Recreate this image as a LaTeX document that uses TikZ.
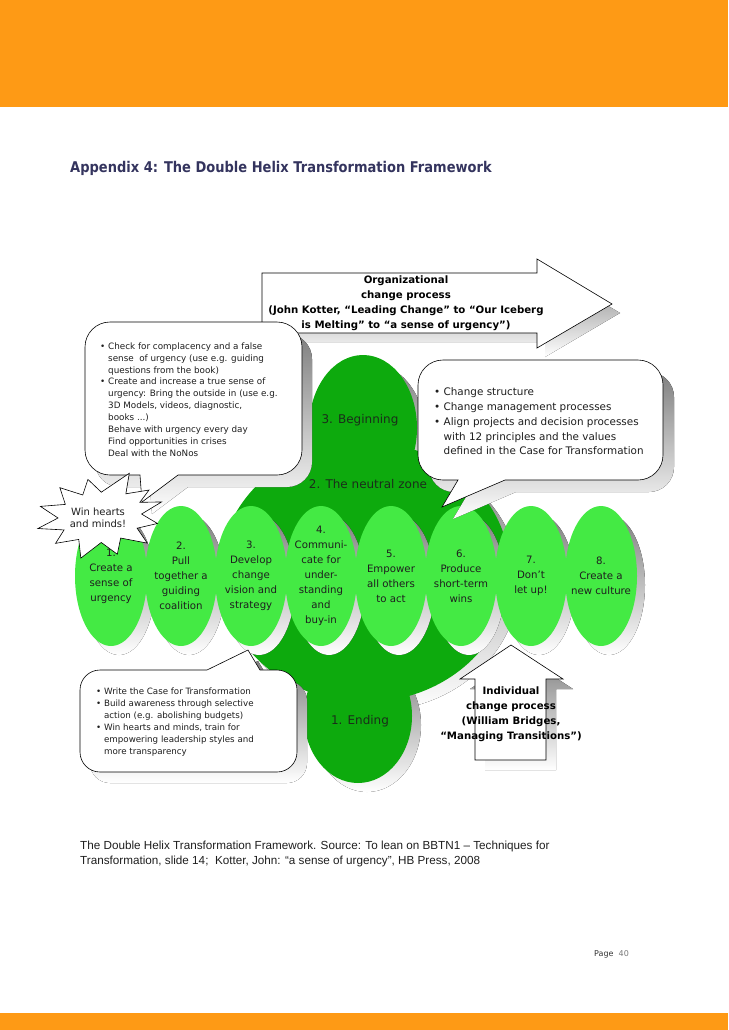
\documentclass[tikz,border=0pt]{standalone}
\usepackage{fontspec}
\setmainfont{DejaVu Sans}
\newfontfamily\capfont{Liberation Sans}
\definecolor{bandorange}{HTML}{FE9A15}
\definecolor{titleblue}{HTML}{34345E}
\definecolor{helixdark}{HTML}{0DAA0D}
\definecolor{helixlight}{HTML}{44EA44}
\definecolor{shade}{HTML}{8A8A8A}
\definecolor{inktext}{HTML}{1E1E1E}
\definecolor{greenink}{HTML}{1A2E1A}
\definecolor{pagegray}{HTML}{333333}
\definecolor{numgray}{HTML}{777777}
\newcommand{\fsz}[2]{\fontsize{#1}{#2}\selectfont}
\newcommand{\hangbul}{\hphantom{\textbullet\ }}
\newcommand{\orgarrow}{(262,273) -- (537,273) -- (537,259) -- (612,304) -- (537,348) -- (537,333) -- (262,333) -- cycle}
\newcommand{\indarrow}{(475,760) -- (475,679) -- (460,679) -- (511,645) -- (563,679) -- (546,679) -- (546,760) -- cycle}
\newcommand{\bubA}{(110,322) -- (277,322) arc[start angle=-90,end angle=0,radius=25] -- (302,450) arc[start angle=0,end angle=90,radius=25] -- (178,475) -- (142,502) -- (140,475) -- (110,475) arc[start angle=90,end angle=180,radius=25] -- (85,347) arc[start angle=180,end angle=270,radius=25] -- cycle}
\newcommand{\bubB}{(443,360) -- (638,360) arc[start angle=-90,end angle=0,radius=25] -- (663,455) arc[start angle=0,end angle=90,radius=25] -- (505,480) -- (442,507) -- (458,480) -- (443,480) arc[start angle=90,end angle=180,radius=25] -- (418,385) arc[start angle=180,end angle=270,radius=25] -- cycle}
\newcommand{\bubC}{(100,670) -- (207,670) -- (248,650) -- (260,670) -- (277,670) arc[start angle=-90,end angle=0,radius=20] -- (297,752) arc[start angle=0,end angle=90,radius=20] -- (100,772) arc[start angle=90,end angle=180,radius=20] -- (80,690) arc[start angle=180,end angle=270,radius=20] -- cycle}
\begin{document}
\begin{tikzpicture}[x=1pt,y=-1pt,
  outline/.style={draw=black,line width=0.6pt,fill=white},
  celltext/.style={font=\fsz{10.2}{15},align=center,text=inktext,inner sep=0pt},
  zonetext/.style={font=\fsz{12}{14},text=greenink,inner sep=0pt},
  bubbletext/.style={align=left,text=inktext,inner sep=0pt,anchor=west},
  arrowtext/.style={font=\fsz{10.2}{15}\bfseries,align=center,text=black,inner sep=0pt}]
\useasboundingbox (0,0) rectangle (728,1030);
\fill[bandorange] (0,0) rectangle (728,107);
\fill[bandorange] (0,1013) rectangle (728,1030);
\node[anchor=base west,inner sep=0pt,font=\fsz{14.8}{16}\bfseries,text=titleblue] (title) at (70,172) {\scalebox{0.88}[1]{Appendix 4: The Double Helix Transformation Framework}};

% organizational arrow
\fill[shade,shift={(8,9)}] \orgarrow;
\draw[outline] \orgarrow;
\node[arrowtext] (orgtext) at (406,303.5) {Organizational\\change process\\(John Kotter, “Leading Change” to “Our Iceberg\\is Melting” to “a sense of urgency”)};

% helix body
\begin{scope}[shift={(9,9)}]
  \fill[shade] (365,572) ellipse [x radius=145,y radius=130];
  \fill[shade] (363,428) ellipse [x radius=54,y radius=73];
  \fill[shade] (358,716) ellipse [x radius=54,y radius=67];
\end{scope}
\fill[helixdark] (365,572) ellipse [x radius=145,y radius=130];
\fill[helixdark] (363,428) ellipse [x radius=54,y radius=73];
\fill[helixdark] (358,716) ellipse [x radius=54,y radius=67];

% row of steps
\foreach \i in {0,...,7} {
  \fill[shade] ({119+70*\i},585) ellipse [x radius=36,y radius=70];
  \fill[helixlight] ({111+70*\i},576) ellipse [x radius=36,y radius=70];
}

\node[zonetext] (begin) at (360,420) {3. Beginning};
\node[zonetext] (neutral) at (368,484) {2. The neutral zone};
\node[zonetext] (ending) at (360,721) {1. Ending};

% upper-left bubble
\fill[shade,shift={(10,12)}] \bubA;
\draw[outline] \bubA;
\node[bubbletext,font=\fsz{8.8}{11.9}] (bubAtext) at (100,399.5) {\textbullet\ Check for complacency and a false\\
\hangbul sense~ of urgency (use e.g. guiding\\
\hangbul questions from the book)\\
\textbullet\ Create and increase a true sense of\\
\hangbul urgency: Bring the outside in (use e.g.\\
\hangbul 3D Models, videos, diagnostic,\\
\hangbul books ...)\\
\hangbul Behave with urgency every day\\
\hangbul Find opportunities in crises\\
\hangbul Deal with the NoNos};

% right bubble
\fill[shade,shift={(11,12)}] \bubB;
\draw[outline] \bubB;
\node[bubbletext,font=\fsz{10.4}{14.8}] (bubBtext) at (434,421.5) {\textbullet\ Change structure\\
\textbullet\ Change management processes\\
\textbullet\ Align projects and decision processes\\
\hangbul with 12 principles and the values\\
\hangbul defined in the Case for Transformation};

% star
\begin{scope}[shift={(100,518)},yscale=0.68]
  \draw[outline] (339:66) -- (352:42) -- (8:58) -- (22:40) -- (38:60) -- (55:36) -- (72:56) -- (88:36) -- (108:62) -- (124:38) -- (140:58) -- (154:40) -- (166:64) -- (180:42) -- (196:62) -- (210:40) -- (228:60) -- (243:38) -- (258:58) -- (272:38) -- (294:72) -- (306:44) -- (320:64) -- (330:46) -- cycle;
\end{scope}
\node[align=center,inner sep=0pt,font=\fsz{10}{12},text=inktext] (star) at (98,518) {Win hearts\\and minds!};

% step labels
\node[celltext] (s1) at (111,576) {1.\\Create a\\sense of\\urgency};
\node[celltext] (s2) at (181,576) {2.\\Pull\\together a\\guiding\\coalition};
\node[celltext] (s3) at (251,576) {3.\\Develop\\change\\vision and\\strategy};
\node[celltext] (s4) at (321,576) {4.\\Communi-\\cate for\\under-\\standing\\and\\buy-in};
\node[celltext] (s5) at (391,576) {5.\\Empower\\all others\\to act};
\node[celltext] (s6) at (461,576) {6.\\Produce\\short-term\\wins};
\node[celltext] (s7) at (531,576) {7.\\Don't\\let up!};
\node[celltext] (s8) at (601,576) {8.\\Create a\\new culture};

% lower-left bubble
\fill[shade,shift={(10,11)}] \bubC;
\draw[outline] \bubC;
\node[bubbletext,font=\fsz{8.7}{12}] (bubCtext) at (96,722) {\textbullet\ Write the Case for Transformation\\
\textbullet\ Build awareness through selective\\
\hangbul action (e.g. abolishing budgets)\\
\textbullet\ Win hearts and minds, train for\\
\hangbul empowering leadership styles and\\
\hangbul more transparency};

% individual arrow
\fill[shade,shift={(10,10)}] \indarrow;
\draw[outline] \indarrow;
\node[arrowtext] (indtext) at (511,714.5) {Individual\\change process\\(William Bridges,\\“Managing Transitions”)};

% caption and page
\node[anchor=west,align=left,inner sep=0pt,font=\capfont\fsz{11.7}{15},text=inktext] (caption) at (80,853.5) {The Double Helix Transformation Framework. Source: To lean on BBTN1 – Techniques for\\Transformation, slide 14;~ Kotter, John: “a sense of urgency”, HB Press, 2008};
\node[anchor=west,inner sep=0pt,font=\fsz{8}{10}] (page) at (594,954) {\textcolor{pagegray}{Page}\ \ \textcolor{numgray}{40}};
\end{tikzpicture}
\end{document}
